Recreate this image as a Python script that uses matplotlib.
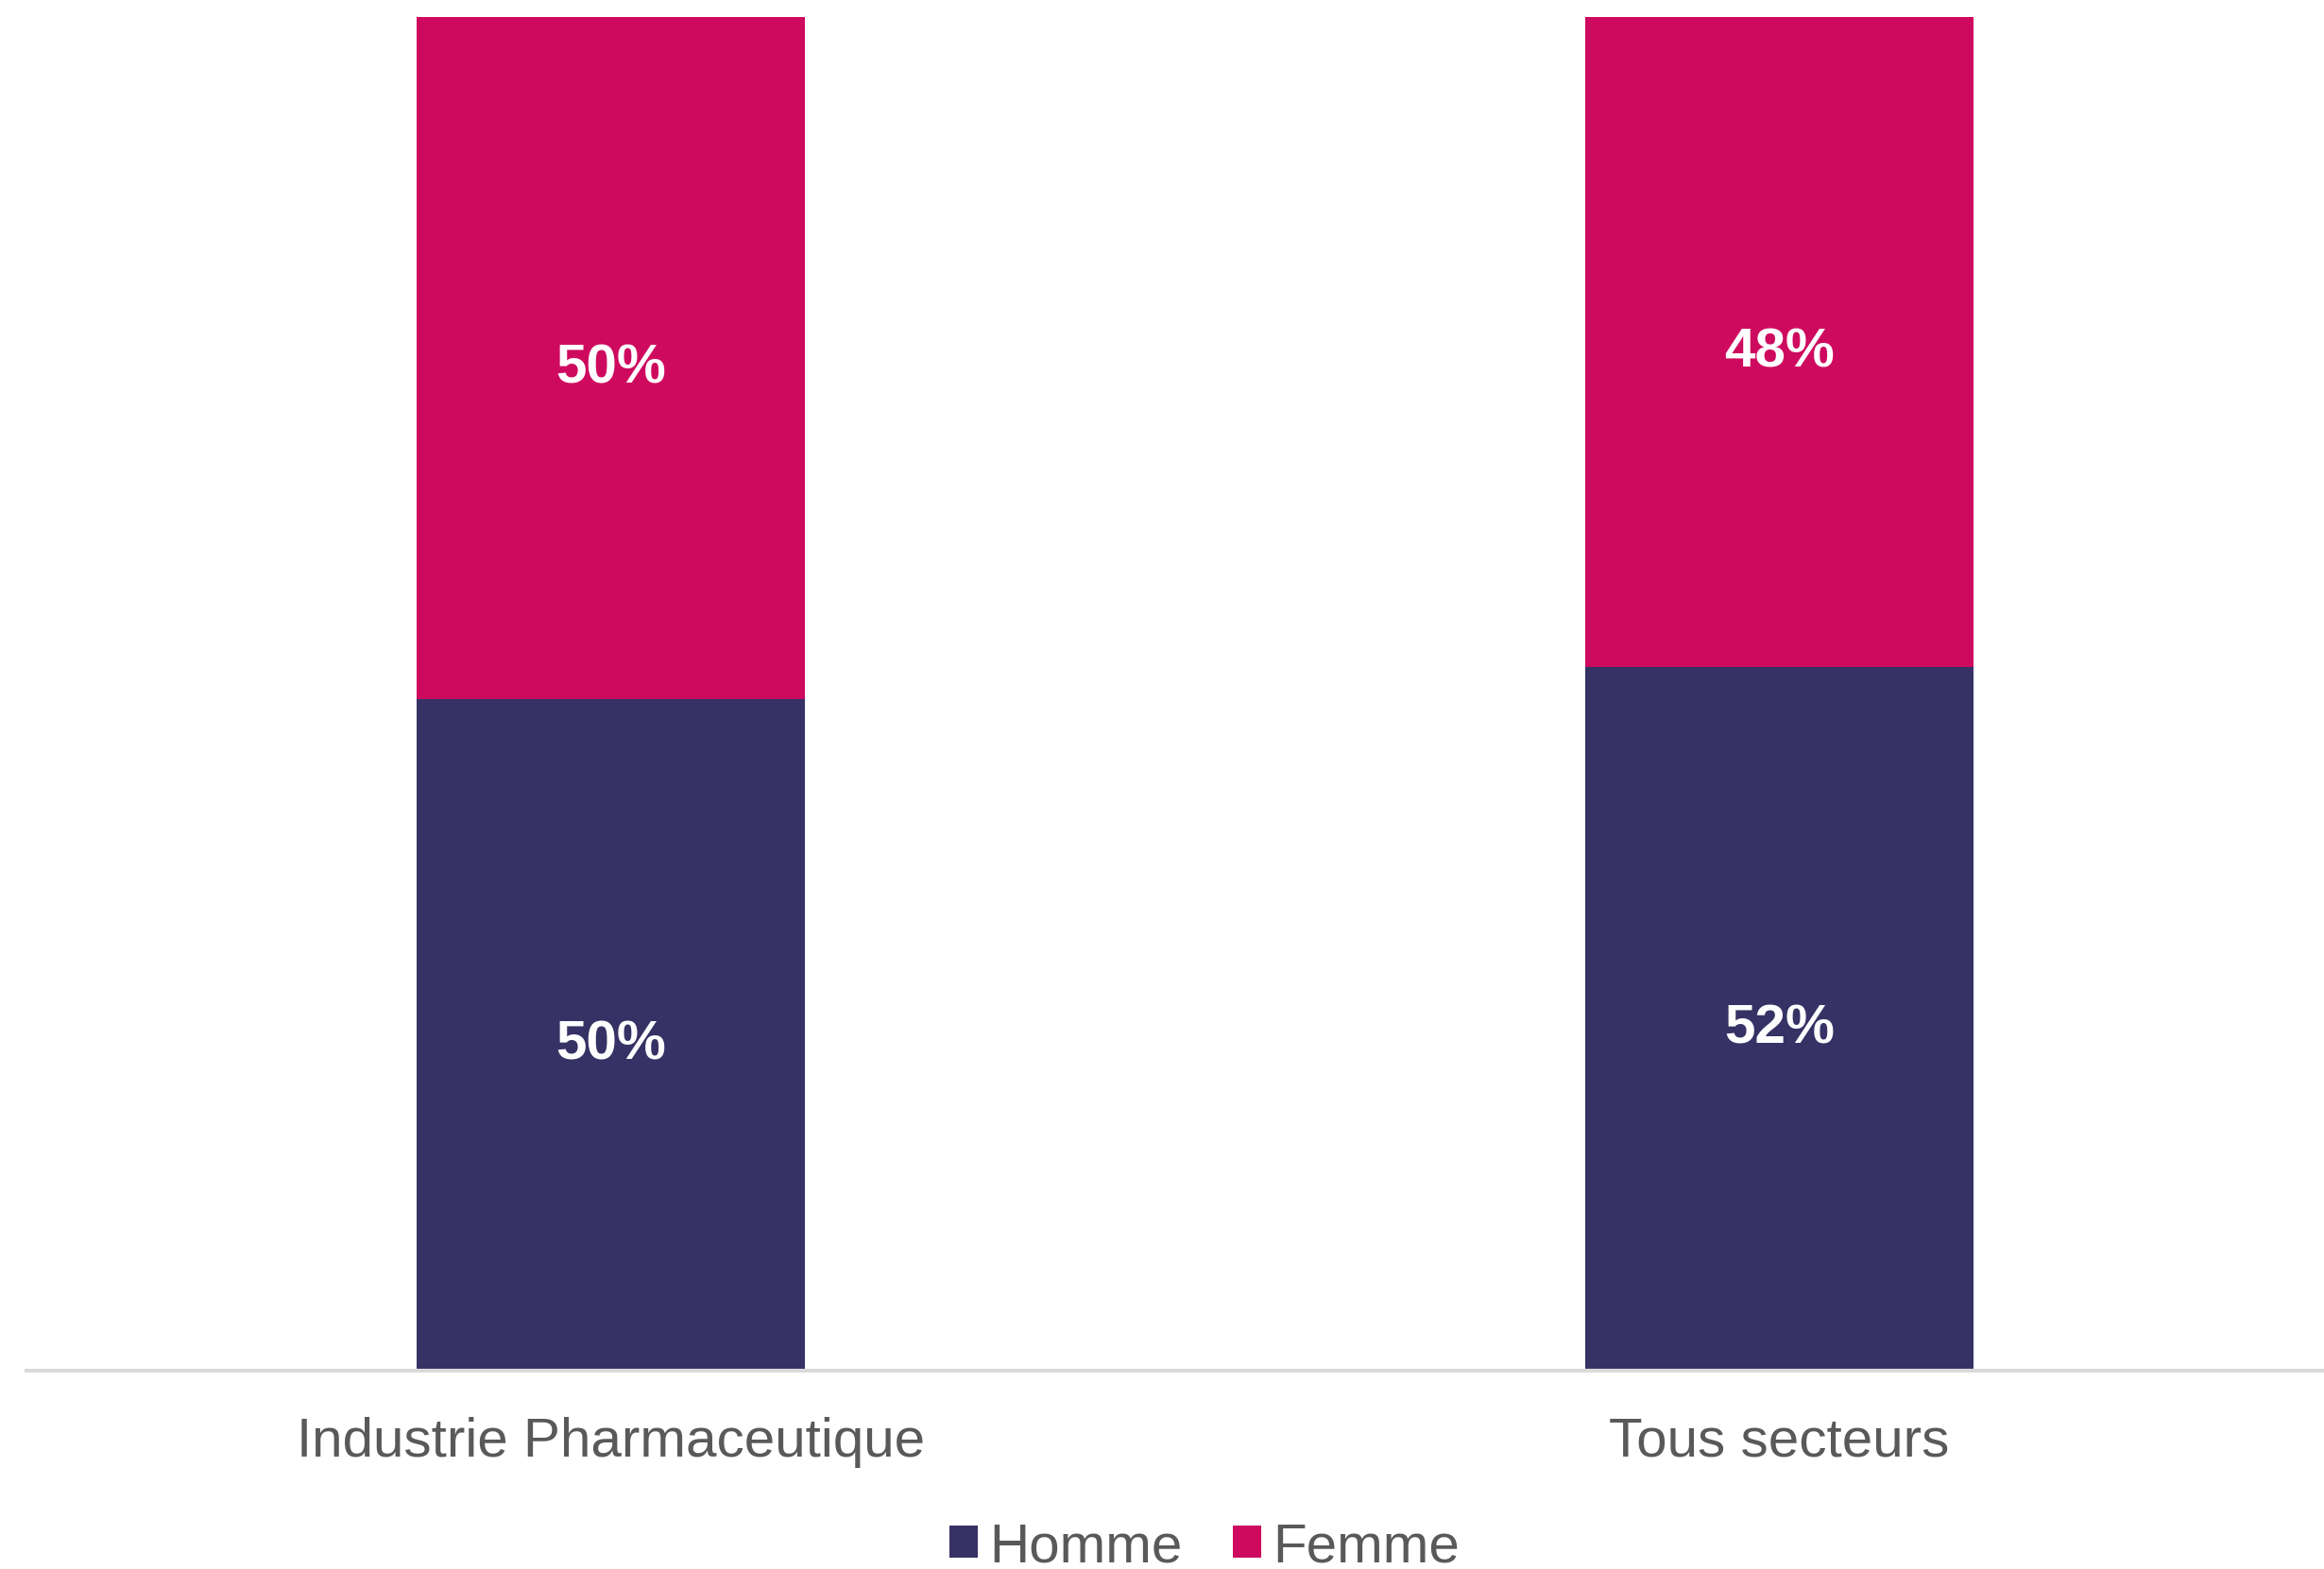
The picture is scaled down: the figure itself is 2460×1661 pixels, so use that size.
import matplotlib
matplotlib.use("Agg")
import matplotlib.pyplot as plt
from matplotlib.patches import Patch

categories = ["Industrie Pharmaceutique", "Tous secteurs"]
homme = [0.496, 0.52]
femme = [0.504, 0.48]
series_names = ["Homme", "Femme"]
colors = ["#363265", "#CE0A5F"]

plt.rcParams['font.family'] = ['Liberation Sans', 'DejaVu Sans']

W, H = 2460, 1661
fig = plt.figure(figsize=(W / 100, H / 100), dpi=100)
left_px, right_px = 28, 2502
bottom_px, top_px = 1451, 18
ax = fig.add_axes([left_px / W, 1 - bottom_px / H, (right_px - left_px) / W, (bottom_px - top_px) / H])

x = list(range(len(categories)))
bw = 0.333
ax.bar(x, homme, width=bw, color=colors[0], label=series_names[0])
ax.bar(x, femme, width=bw, bottom=homme, color=colors[1], label=series_names[1])

for i in x:
    ax.annotate(f"{homme[i]*100:.0f}%", (i, homme[i] / 2), xytext=(0, -8), textcoords='offset points',
                ha='center', va='center', color='white', fontsize=42, fontweight='bold')
    ax.annotate(f"{femme[i]*100:.0f}%", (i, homme[i] + femme[i] / 2), xytext=(0, -8),
                textcoords='offset points', ha='center', va='center', color='white',
                fontsize=42, fontweight='bold')

ax.set_xlim(-0.5, 1.5)
ax.set_ylim(0, 1)
ax.set_xticks(x)
ax.set_xticklabels(categories, fontsize=42, color='#595959')
ax.tick_params(axis='x', length=0, pad=35)
ax.set_yticks([])
for s in ['top', 'right', 'left']:
    ax.spines[s].set_visible(False)
ax.spines['bottom'].set_color('#D9D9D9')
ax.spines['bottom'].set_linewidth(2.9)

handles = [Patch(facecolor=c, edgecolor='none') for c in colors]
fig.legend(handles, series_names, loc='center', bbox_to_anchor=(1275 / W, 1 - 1638 / H),
           ncol=2, frameon=False, fontsize=42, labelcolor='#595959',
           handlelength=0.51, handleheight=0.51, handletextpad=0.21, columnspacing=0.91,
           borderpad=0, borderaxespad=0)

fig.savefig("out.png", dpi=100)
